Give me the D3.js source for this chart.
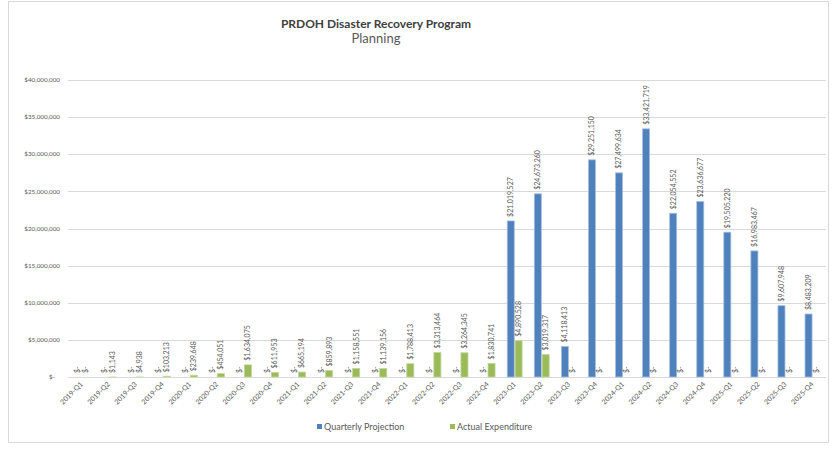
<!DOCTYPE html>
<meta charset="utf-8">
<script src="https://cdn.jsdelivr.net/npm/d3@7"></script>
<style>
body { margin: 0; background: #fff; }
text { font-family: "Lato", "DejaVu Sans", sans-serif; fill: #595959; }
.grid line { stroke: #d9d9d9; stroke-width: 1; }
</style>
<body>
<script>

var quarters = ["2019-Q1","2019-Q2","2019-Q3","2019-Q4","2020-Q1","2020-Q2","2020-Q3","2020-Q4",
                "2021-Q1","2021-Q2","2021-Q3","2021-Q4","2022-Q1","2022-Q2","2022-Q3","2022-Q4",
                "2023-Q1","2023-Q2","2023-Q3","2023-Q4","2024-Q1","2024-Q2","2024-Q3","2024-Q4",
                "2025-Q1","2025-Q2","2025-Q3","2025-Q4"];

var projection = [0,0,0,0,0,0,0,0,
                  0,0,0,0,0,0,0,0,
                  21019527,24673260,4118413,29251150,27499634,33421719,22054552,23636677,
                  19505220,16983467,9607948,8483209];

var actual = [0,1143,4938,103213,239648,454051,1634075,611953,
              665194,859893,1158551,1139156,1788413,3313464,3264345,1830741,
              4890528,3019317,0,0,0,0,0,0,
              0,0,0,0];

var yTicks = [0,5000000,10000000,15000000,20000000,25000000,30000000,35000000,40000000];

var seriesNames = ["Quarterly Projection","Actual Expenditure"];
var seriesColors = ["#4f81bd","#9bbb59"];
var seriesStroke = ["#a7c0e0","#c3d69b"];

var width = 833, height = 450;

var svg = d3.select("body").append("svg")
    .attr("width", width)
    .attr("height", height);

// frame
svg.append("rect")
    .attr("x", 8.5).attr("y", 1.5)
    .attr("width", 820).attr("height", 441)
    .attr("fill", "none")
    .attr("stroke", "#d9d9d9");

// title
svg.append("text")
    .attr("x", 376).attr("y", 28)
    .attr("text-anchor", "middle")
    .style("font-size", "12px")
    .style("font-weight", "bold")
    .style("fill", "#404040")
    .text("PRDOH Disaster Recovery Program");

svg.append("text")
    .attr("x", 376).attr("y", 43)
    .attr("text-anchor", "middle")
    .style("font-size", "13px")
    .text("Planning");

var x = d3.scaleBand()
    .domain(quarters)
    .range([68, 826])
    .paddingInner(0.45)
    .paddingOuter(0.225);

var xs = d3.scaleBand()
    .domain([0, 1])
    .range([0, x.bandwidth()])
    .paddingInner(0.1);

var y = d3.scaleLinear()
    .domain([0, 40000000])
    .range([377, 80]);

// gridlines
svg.append("g")
    .attr("class", "grid")
    .selectAll("line")
    .data(yTicks)
    .enter().append("line")
    .attr("x1", 68).attr("x2", 826)
    .attr("y1", function(d) { return Math.round(y(d)) + 0.5; })
    .attr("y2", function(d) { return Math.round(y(d)) + 0.5; });

// y axis labels
var fmt = d3.format("$,");
function money(v) { return v === 0 ? "$-" : fmt(v); }

svg.append("g")
    .selectAll("text")
    .data(yTicks)
    .enter().append("text")
    .attr("x", function(d) { return d === 0 ? 55 : 60; })
    .attr("y", function(d) { return y(d); })
    .attr("dy", "0.35em")
    .attr("text-anchor", "end")
    .style("font-size", "6.3px")
    .text(money);

// x axis labels
svg.append("g")
    .selectAll("text")
    .data(quarters)
    .enter().append("text")
    .attr("transform", function(d) {
        return "translate(" + (x(d) + x.bandwidth() / 2) + ",383) rotate(-45)";
    })
    .attr("text-anchor", "end")
    .attr("dy", "0.35em")
    .style("font-size", "7px")
    .text(function(d) { return d; });

// bars + labels
var series = [projection, actual];
series.forEach(function(vals, s) {
    var g = svg.append("g");
    var rows = quarters.map(function(q, i) { return { q: q, v: vals[i] }; });

    g.selectAll("rect")
        .data(rows.filter(function(d) { return d.v > 0; }))
        .enter().append("rect")
        .attr("x", function(d) { return x(d.q) + xs(s); })
        .attr("y", function(d) { return y(d.v); })
        .attr("width", xs.bandwidth())
        .attr("height", function(d) { return y(0) - y(d.v); })
        .attr("fill", seriesColors[s])
        .attr("stroke", seriesStroke[s])
        .attr("stroke-width", 0.8);

    g.selectAll("text")
        .data(rows)
        .enter().append("text")
        .attr("transform", function(d) {
            return "translate(" + (x(d.q) + xs(s) + xs.bandwidth() / 2) + "," + (y(d.v) - 4) + ") rotate(-90)";
        })
        .attr("dy", "0.35em")
        .style("font-size", "7px")
        .text(function(d) { return money(d.v); });
});

// legend
var legend = svg.append("g");
var legendX = [317, 450];
seriesNames.forEach(function(n, i) {
    legend.append("rect")
        .attr("x", legendX[i]).attr("y", 424)
        .attr("width", 5).attr("height", 5)
        .attr("fill", seriesColors[i]);
    legend.append("text")
        .attr("x", legendX[i] + 7).attr("y", 427)
        .attr("dy", "0.35em")
        .style("font-size", "9px")
        .text(n);
});

</script>
</body>
